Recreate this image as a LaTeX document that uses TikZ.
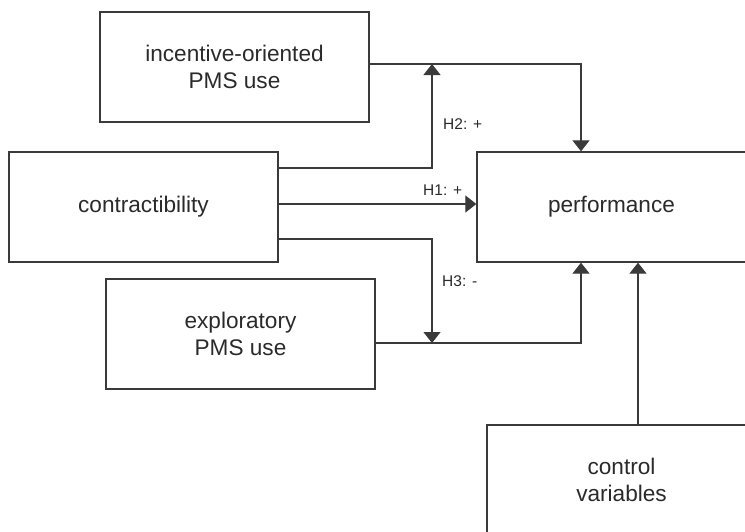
\documentclass[tikz,border=0pt]{standalone}
\usepackage{fontspec}
\setmainfont{Liberation Sans}
\usetikzlibrary{arrows.meta,calc}
\definecolor{lc}{HTML}{3A3A3A}
\definecolor{tc}{HTML}{2A2A2A}
\begin{document}
\begin{tikzpicture}[x=1pt,y=-1pt,
 box/.style={draw=lc, line width=1.3pt, minimum width=269pt, minimum height=110pt, inner sep=0pt, align=center, font=\fontsize{22.6}{27.5}\selectfont, text=tc},
 conn/.style={draw=lc, line width=1.2pt},
 arr/.style={conn, -{Triangle[width=17pt,length=11pt]}},
 lab/.style={font=\fontsize{15.5}{17}\selectfont, text=tc, anchor=west, inner sep=0pt}]
\useasboundingbox (0,0) rectangle (745,531);
\node[box] (inc) at (234.5,67) {incentive-oriented\\PMS use};
\node[box] (con) at (143.5,207) {contractibility};
\node[box] (exp) at (240.5,334) {exploratory\\PMS use};
\node[box] (perf) at (611.5,207) {performance};
\node[box] (ctrl) at (621.5,480) {control\\variables};
\coordinate (j2) at (432,64);
\coordinate (j3) at (432,343);
\coordinate (pa) at (581,0);
\coordinate (pb) at (638,0);
\coordinate (c1) at (0,168);
\coordinate (c2) at (0,204);
\coordinate (c3) at (0,239);
\draw[arr] (inc.east |- j2) -| (perf.north -| pa);
\draw[arr] (con.east |- c1) -| (j2);
\draw[arr] (con.east |- c2) -- (perf.west |- c2);
\draw[arr] (con.east |- c3) -| (j3);
\draw[arr] (exp.east |- j3) -| (perf.south -| pa);
\draw[arr] (ctrl.north -| pb) -- (perf.south -| pb);
\node[lab] (h2) at (443,124) {H2: +};
\node[lab] (h1) at (423,190) {H1: +};
\node[lab] (h3) at (442,281) {H3: -};
\end{tikzpicture}
\end{document}
